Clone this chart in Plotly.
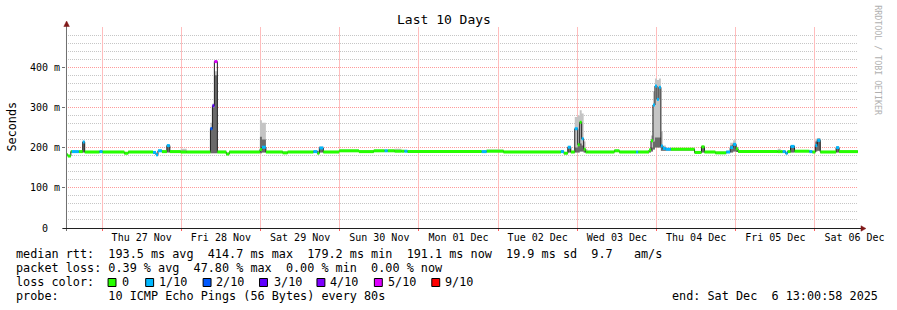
import plotly.graph_objects as go
from datetime import datetime, timedelta

# ---------------- data ----------------
start = datetime(2025, 11, 26, 13, 0, 58)
end = datetime(2025, 12, 6, 13, 0, 58)

# start of each step (hours after start)
t_hours = [0.0, 0.6, 1.5, 1.8, 3.9, 5.1, 5.7, 10.2, 11.1, 17.7,
           18.9, 26.4, 27.3, 27.9, 29.1, 30.6, 31.5, 34.8, 36.6, 43.8,
           44.4, 45.0, 45.9, 48.6, 49.5, 58.8, 59.4, 60.6, 65.7, 67.2,
           75.0, 76.2, 76.8, 78.0, 82.8, 88.8, 93.3, 96.6, 97.5, 99.6,
           101.7, 102.6, 103.5, 126.0, 127.5, 132.6, 150.0, 150.9, 152.1, 153.0,
           154.2, 155.1, 155.7, 156.3, 156.9, 157.5, 158.1, 166.2, 167.7, 172.8,
           173.4, 176.7, 177.3, 177.9, 178.5, 179.1, 179.7, 180.3, 180.9, 181.8,
           183.3, 190.5, 192.6, 193.5, 196.8, 200.1, 201.3, 202.2, 203.1, 203.7,
           215.7, 216.6, 217.2, 218.1, 218.7, 219.6, 220.8, 225.3, 226.2, 227.1,
           227.7, 228.6, 233.4, 234.3]
median_ms = [182, 179, 190, 190, 190, 214, 189, 190, 189, 186,
             189, 188, 182, 192, 190, 205, 190, 189, 189, 247,
             304, 414, 189, 184, 189, 195, 201, 189, 187, 189,
             190, 186, 199, 189, 192, 190, 192, 192, 192, 191,
             191, 191, 190, 190, 191, 189, 190, 186, 201, 189,
             247, 207, 263, 222, 196, 189, 189, 192, 189, 189,
             189, 194, 217, 306, 353, 320, 350, 204, 198, 196,
             196, 188, 202, 189, 187, 189, 200, 208, 197, 190,
             190, 190, 190, 186, 190, 203, 191, 190, 189, 205,
             218, 189, 200, 190]
loss_of_10 = [0, 0, 0, 1, 0, 1, 0, 1, 0, 0,
              0, 1, 1, 1, 0, 1, 0, 0, 0, 2,
              3, 5, 0, 0, 0, 0, 1, 0, 0, 0,
              1, 0, 1, 0, 0, 0, 0, 1, 0, 0,
              0, 1, 0, 1, 0, 0, 1, 0, 1, 0,
              1, 0, 0, 1, 0, 0, 0, 0, 0, 1,
              0, 0, 0, 1, 1, 1, 1, 1, 1, 1,
              0, 0, 0, 0, 0, 1, 1, 1, 0, 0,
              0, 0, 1, 1, 0, 1, 0, 1, 0, 1,
              1, 0, 1, 0]
smoke_lo = [180, 178, 187, 187, 187, 188, 187, 187, 187, 184,
            187, 185, 180, 189, 187, 188, 187, 187, 187, 186,
            186, 186, 187, 182, 187, 186, 188, 187, 185, 187,
            187, 184, 188, 187, 190, 188, 190, 190, 190, 189,
            189, 189, 188, 188, 189, 187, 188, 184, 188, 187,
            188, 188, 190, 190, 188, 187, 187, 190, 187, 187,
            187, 188, 190, 195, 200, 200, 200, 192, 192, 193,
            193, 186, 188, 187, 185, 187, 188, 190, 189, 188,
            188, 188, 188, 184, 188, 188, 189, 188, 187, 190,
            192, 187, 188, 188]
smoke_core = [184, 181, 192, 192, 192, 215, 191, 192, 191, 188,
              191, 190, 185, 194, 192, 206, 192, 192, 191, 250,
              300, 380, 191, 186, 191, 227, 220, 191, 189, 191,
              192, 190, 200, 191, 194, 192, 194, 194, 194, 193,
              193, 193, 192, 192, 194, 191, 192, 188, 202, 191,
              200, 205, 210, 205, 196, 191, 191, 194, 191, 191,
              191, 196, 200, 215, 225, 225, 225, 205, 200, 198,
              198, 190, 203, 191, 189, 191, 205, 210, 199, 192,
              192, 192, 192, 188, 192, 204, 193, 192, 191, 215,
              222, 191, 201, 192]
smoke_hi = [185, 182, 193, 193, 193, 216, 192, 193, 192, 189,
            192, 191, 186, 195, 193, 207, 193, 197, 192, 262,
            310, 390, 193, 187, 192, 268, 262, 192, 190, 192,
            193, 192, 203, 192, 195, 193, 195, 195, 195, 197,
            194, 194, 193, 193, 195, 192, 193, 189, 204, 192,
            276, 280, 293, 285, 215, 196, 192, 195, 192, 192,
            192, 198, 230, 340, 372, 368, 372, 240, 205, 199,
            199, 191, 204, 192, 190, 192, 212, 218, 202, 193,
            197, 193, 193, 189, 193, 205, 194, 193, 192, 222,
            224, 192, 202, 193]

loss_labels = ["0", "1/10", "2/10", "3/10", "4/10", "5/10", "9/10"]
loss_levels = [0, 1, 2, 3, 4, 5, 9]
loss_colors = ["#26ff00", "#00b8ff", "#0059ff", "#5e00ff", "#7e00ff", "#dd00ff", "#ff0000"]
color_of = dict(zip(loss_levels, loss_colors))

y_ticks = [0, 100, 200, 300, 400]
y_ticktext = ["0\u00a0\u00a0", "100 m", "200 m", "300 m", "400 m"]

legend_rows = [
    "median rtt:  193.5 ms avg  414.7 ms max  179.2 ms min  191.1 ms now  19.9 ms sd  9.7   am/s",
    "packet loss: 0.39 % avg  47.80 % max  0.00 % min  0.00 % now",
    "loss color:",
    "probe:       10 ICMP Echo Pings (56 Bytes) every 80s",
]
end_text = "end: Sat Dec  6 13:00:58 2025"

# ---------------- geometry helpers ----------------
L, T, W, H = 66, 27, 800, 201
FIG_W, FIG_H = 897, 310


def px(x):
    return (x - L) / W


def py(y):
    return (T + H - y) / H


FONT = "DejaVu Sans Mono"
NB = "\u00a0"

times = [(start + timedelta(hours=h)).isoformat() for h in t_hours] + [end.isoformat()]


def ext(a):
    return list(a) + [a[-1]]


fig = go.Figure()

# smoke (light)
fig.add_trace(go.Scatter(x=times, y=ext(smoke_lo), mode="lines",
                         line=dict(width=0, shape="hv"), hoverinfo="skip", showlegend=False))
fig.add_trace(go.Scatter(x=times, y=ext(smoke_hi), mode="lines", fill="tonexty",
                         fillcolor="#c4c4c4", line=dict(width=0, shape="hv"),
                         hoverinfo="skip", showlegend=False))
# smoke (core, darker)
fig.add_trace(go.Scatter(x=times, y=ext(smoke_lo), mode="lines",
                         line=dict(width=0, shape="hv"), hoverinfo="skip", showlegend=False))
fig.add_trace(go.Scatter(x=times, y=ext(smoke_core), mode="lines", fill="tonexty",
                         fillcolor="#6a6a6a", line=dict(width=0, shape="hv"),
                         hoverinfo="skip", showlegend=False))
# median dark line
fig.add_trace(go.Scatter(x=times, y=ext(median_ms), mode="lines",
                         line=dict(width=1, color="#202020", shape="hv"),
                         hoverinfo="skip", showlegend=False))

# loss-coloured median: horizontal pieces per step
for lvl in loss_levels:
    xs, ys = [], []
    for k in range(len(t_hours)):
        if loss_of_10[k] == lvl:
            xs += [times[k], times[k + 1], None]
            ys += [median_ms[k], median_ms[k], None]
    if xs:
        fig.add_trace(go.Scatter(x=xs, y=ys, mode="lines", connectgaps=False,
                                 line=dict(width=3, color=color_of[lvl]),
                                 hoverinfo="skip", showlegend=False))

MGRID = "#ff9a9a"
GRID = "#c6c6c6"
MGRID_V = "#ffbdbd"
GRID_V = "#dcdcdc"

# minor grid positions that do not coincide with major ones
day0 = datetime(2025, 11, 26)
x_minor = [(day0 + timedelta(hours=6 * k)).strftime("%Y-%m-%d %H:%M:%S")
           for k in range(0, 44) if k % 4 != 0]
y_minor = [v for v in range(20, 500, 20) if v % 100 != 0]

# visible window: 240 h, aligned so that grid lines fall on pixel centres
view_start = datetime(2025, 11, 26, 13, 3, 0)
view_end = view_start + timedelta(hours=240)
xrange_ = [view_start.isoformat(), view_end.isoformat()]

fig.update_layout(
    xaxis=dict(
        type="date", range=xrange_,
        tick0="2025-11-27", dtick=86400000, ticklabelmode="period",
        tickformat="%a %d %b", tickfont=dict(family=FONT, size=10, color="#000"),
        showgrid=True, gridcolor=MGRID_V, gridwidth=1,
        ticks="outside", ticklen=2, tickcolor="#ff6060", ticklabelstandoff=-2,
        showline=False, zeroline=False, fixedrange=True,
    ),
    # helper axis carrying the 6-hour gray grid
    xaxis2=dict(
        type="date", range=xrange_, overlaying="x", anchor="y", side="bottom",
        tickmode="array", tickvals=x_minor, showticklabels=False,
        showgrid=True, gridcolor=GRID_V, gridwidth=1,
        ticks="outside", ticklen=2, tickcolor="#b0b0b0",
        showline=False, zeroline=False, fixedrange=True,
    ),
    yaxis=dict(
        range=[0, 500], tickvals=y_ticks, ticktext=y_ticktext,
        tickfont=dict(family=FONT, size=10, color="#000"),
        showgrid=True, gridcolor=MGRID, gridwidth=1, griddash="1px,1px",
        ticks="outside", ticklen=3, tickcolor="#707070",
        minor=dict(tickmode="array", tickvals=y_minor, showgrid=True, gridcolor=GRID,
                   griddash="1px,1px"),
        showline=False, zeroline=False, fixedrange=True,
    ),
)

shapes = []
# axis lines
shapes.append(dict(type="line", xref="paper", yref="paper",
                   x0=px(66.5), x1=px(66.5), y0=py(231), y1=py(26),
                   line=dict(color="#707070", width=1)))
shapes.append(dict(type="line", xref="paper", yref="paper",
                   x0=px(63), x1=px(870), y0=py(228.5), y1=py(228.5),
                   line=dict(color="#202020", width=1)))
# arrows
ARROW = "#801818"
shapes.append(dict(type="path", xref="paper", yref="paper", fillcolor=ARROW,
                   line=dict(color=ARROW, width=0.5),
                   path=f"M {px(66.6)},{py(21)} L {px(63.8)},{py(26.5)} L {px(69.4)},{py(26.5)} Z"))
shapes.append(dict(type="path", xref="paper", yref="paper", fillcolor=ARROW,
                   line=dict(color=ARROW, width=0.5),
                   path=f"M {px(874)},{py(228.5)} L {px(869)},{py(225.8)} L {px(869)},{py(231.2)} Z"))

# legend swatches
swatch_x = [108, 146, 204, 261, 319, 377, 435]
for sx, col in zip(swatch_x, loss_colors):
    shapes.append(dict(type="rect", xref="paper", yref="paper",
                       x0=px(sx + 0.5), x1=px(sx + 8.5), y0=py(278.5), y1=py(286.5),
                       fillcolor=col, line=dict(color="#000", width=1)))

fig.update_layout(shapes=shapes)

annots = []


def text(x, y, s, size=11.8, color="#000", **kw):
    annots.append(dict(xref="paper", yref="paper", x=px(x), y=py(y),
                       text=s.replace(" ", NB),
                       showarrow=False, xanchor=kw.get("xanchor", "left"),
                       yanchor="middle", borderpad=0, borderwidth=0,
                       textangle=kw.get("angle", 0),
                       font=dict(family=FONT, size=size, color=color)))


# title & axis label
text(447.5, 19.5, "Last 10 Days", size=13, xanchor="center")
text(11, 127, "Seconds", size=11.8, xanchor="center", angle=-90)
text(886, 60, "RRDTOOL / TOBI OETIKER", size=8.3, color="#b0b0b0", xanchor="center", angle=90)

# legend text
row_y = [254, 268, 282, 296]
for ry, s in zip(row_y, legend_rows):
    text(15.5, ry, s)
label_x = [123, 160, 218, 276, 333, 391, 449]
for lx, lab in zip(label_x, loss_labels):
    text(lx, row_y[2], lab)
text(678, row_y[3], end_text)

fig.update_layout(
    annotations=annots,
    width=FIG_W, height=FIG_H,
    margin=dict(l=L, r=FIG_W - L - W, t=T, b=FIG_H - T - H, pad=0),
    paper_bgcolor="#ffffff", plot_bgcolor="#ffffff",
    showlegend=False, hovermode=False,
)

fig.write_html("out.html", config={"displayModeBar": False})
